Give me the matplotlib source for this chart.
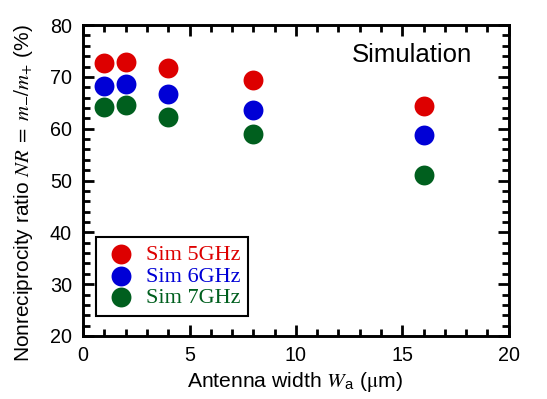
import matplotlib
matplotlib.use('Agg')
import matplotlib.pyplot as plt
from matplotlib.ticker import MultipleLocator

plt.rcParams['font.family'] = ['Liberation Sans', 'DejaVu Sans']
plt.rcParams['mathtext.fontset'] = 'stix'

# antenna width (um)
widths = [1, 2, 4, 8, 16]
# nonreciprocity ratio (%)
nr_5ghz = [72.6, 72.9, 71.7, 69.5, 64.4]
nr_6ghz = [68.2, 68.6, 66.8, 63.6, 58.8]
nr_7ghz = [64.2, 64.6, 62.2, 59.0, 51.0]

labels = ['Sim 5GHz', 'Sim 6GHz', 'Sim 7GHz']
colors = ['#dd0000', '#0000d6', '#005f1e']

fig = plt.figure(figsize=(5.47, 3.99), dpi=100)
ax = fig.add_axes([0.152, 0.158, 0.778, 0.779])

for ys, lab, col in zip([nr_5ghz, nr_6ghz, nr_7ghz], labels, colors):
    ax.scatter(widths, ys, s=205, color=col, label=lab, linewidths=0, zorder=3)

ax.set_xlim(0, 20)
ax.set_ylim(20, 80)
ax.xaxis.set_major_locator(MultipleLocator(5))
ax.xaxis.set_minor_locator(MultipleLocator(1))
ax.yaxis.set_major_locator(MultipleLocator(10))
ax.yaxis.set_minor_locator(MultipleLocator(2))

ax.tick_params(which='both', direction='in', top=True, right=True, width=2)
ax.tick_params(which='major', length=8, labelsize=14.2)
ax.tick_params(axis='y', which='major', pad=8)
ax.tick_params(axis='x', which='major', pad=7)
ax.tick_params(which='minor', length=5)
for sp in ax.spines.values():
    sp.set_linewidth(2.1)

ax.set_xlabel(r'Antenna width $W_{\mathregular{a}}$ ($\mathrm{\mu}$m)', fontsize=15.2)
ax.set_ylabel(r'Nonreciprocity ratio $NR\;=\;m_{-}/m_{+}$ (%)', fontsize=15)
ax.xaxis.set_label_coords(0.498, -0.108)
ax.yaxis.set_label_coords(-0.113, 0.46)

ax.text(0.772, 0.904, 'Simulation', transform=ax.transAxes, fontsize=18.5,
        ha='center', va='center')

leg = ax.legend(loc='lower left', bbox_to_anchor=(0.03, 0.064), borderaxespad=0,
                fancybox=False, edgecolor='black', framealpha=1,
                prop={'family': 'Liberation Serif', 'size': 16},
                handletextpad=0.3, labelspacing=0.05, borderpad=0.35,
                handlelength=1.6, scatterpoints=1)
leg.get_frame().set_linewidth(1.5)
for txt, col in zip(leg.get_texts(), colors):
    txt.set_color(col)

fig.savefig('out.png', dpi=100)
